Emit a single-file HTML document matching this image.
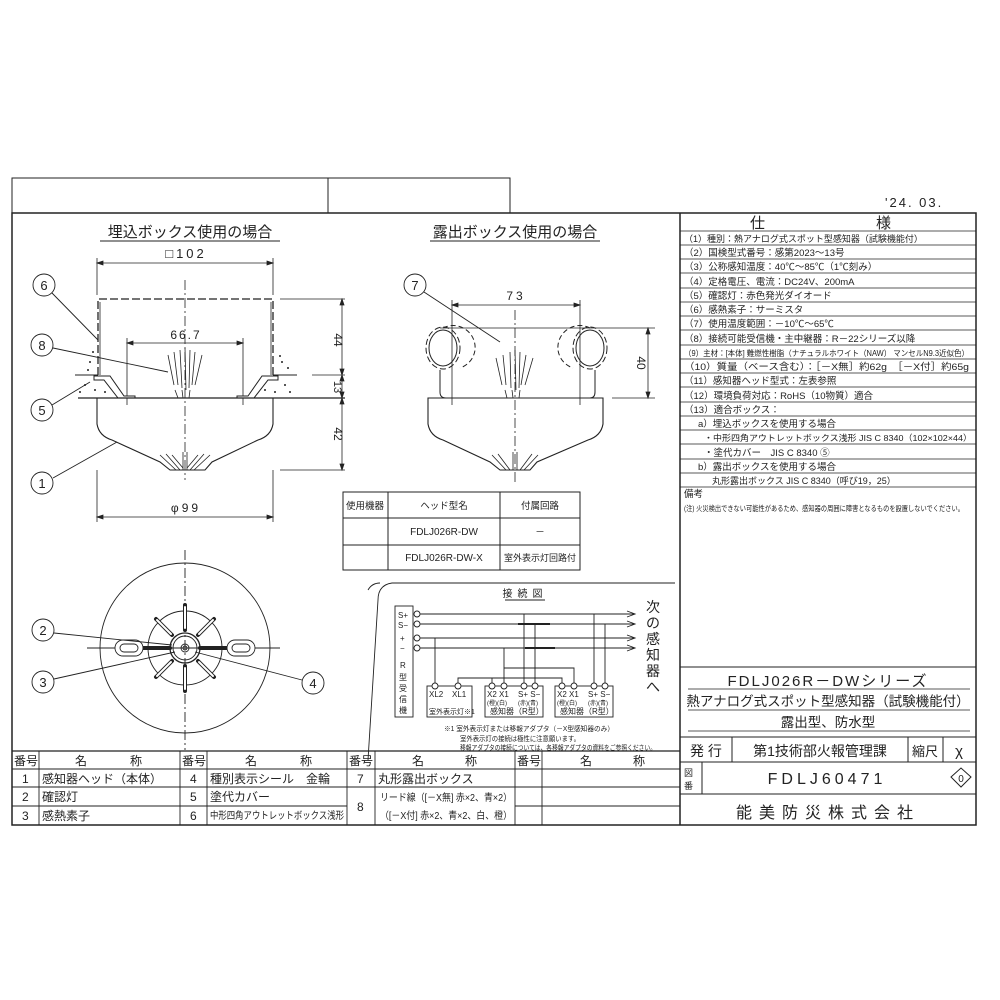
<!DOCTYPE html>
<html><head><meta charset="utf-8"><style>
html,body{margin:0;padding:0;background:#fff;}
svg{display:block;}
text{font-family:"Liberation Sans","Noto Sans CJK JP",sans-serif;fill:#222;}
</style></head><body>
<svg width="1000" height="1000" viewBox="0 0 1000 1000" xmlns="http://www.w3.org/2000/svg" stroke="#222" fill="none" stroke-width="1">
<!-- frame -->
<rect x="12" y="178" width="316" height="35"/>
<rect x="328" y="178" width="182" height="35"/>
<rect x="12" y="213" width="964" height="612" stroke-width="1.5"/>
<line x1="680" y1="213" x2="680" y2="825" stroke-width="1.5"/>
<text x="885" y="207" font-size="13" stroke="none" letter-spacing="2">'24. 03.</text>

<!-- spec table -->
<line x1="680" y1="231" x2="976" y2="231" stroke-width="0.8"/>
<text x="750" y="228" font-size="15" stroke="none">仕</text>
<text x="876" y="228" font-size="15" stroke="none">様</text>
<g font-size="9.5" stroke="none">
<text x="684" y="242" font-size="9">（1）種別：熱アナログ式スポット型感知器（試験機能付）</text>
<text x="684" y="256">（2）国検型式番号：感第2023～13号</text>
<text x="684" y="270">（3）公称感知温度：40℃～85℃（1℃刻み）</text>
<text x="684" y="285">（4）定格電圧、電流：DC24V、200mA</text>
<text x="684" y="299">（5）確認灯：赤色発光ダイオード</text>
<text x="684" y="313">（6）感熱素子：サーミスタ</text>
<text x="684" y="327">（7）使用温度範囲：－10℃～65℃</text>
<text x="684" y="342">（8）接続可能受信機・主中継器：R－22シリーズ以降</text>
<text x="684" y="356" font-size="8" textLength="285" lengthAdjust="spacingAndGlyphs">（9）主材：[本体] 難燃性樹脂（ナチュラルホワイト（NAW） マンセルN9.3近似色）</text>
<text x="684" y="370" textLength="285" lengthAdjust="spacingAndGlyphs">（10）質量（ベース含む）：［－X無］約62g　［－X付］約65g</text>
<text x="684" y="384">（11）感知器ヘッド型式：左表参照</text>
<text x="684" y="399">（12）環境負荷対応：RoHS（10物質）適合</text>
<text x="684" y="413">（13）適合ボックス：</text>
<text x="698" y="427">a）埋込ボックスを使用する場合</text>
<text x="704" y="441" font-size="8.5" textLength="268" lengthAdjust="spacingAndGlyphs">・中形四角アウトレットボックス浅形 JIS C 8340（102×102×44）</text>
<text x="704" y="456">・塗代カバー　JIS C 8340 ⑤</text>
<text x="698" y="470">b）露出ボックスを使用する場合</text>
<text x="712" y="484" font-size="9">丸形露出ボックス JIS C 8340（呼び19，25）</text>
<text x="684" y="497">備考</text>
<text x="684" y="511" font-size="7.5" textLength="280" lengthAdjust="spacingAndGlyphs">(注) 火災検出できない可能性があるため、感知器の周囲に障害となるものを設置しないでください。</text>
</g>
<g stroke-width="0.7">
<line x1="680" y1="245" x2="976" y2="245"/><line x1="680" y1="259" x2="976" y2="259"/>
<line x1="680" y1="273" x2="976" y2="273"/><line x1="680" y1="288" x2="976" y2="288"/>
<line x1="680" y1="302" x2="976" y2="302"/><line x1="680" y1="316" x2="976" y2="316"/>
<line x1="680" y1="330" x2="976" y2="330"/><line x1="680" y1="345" x2="976" y2="345"/>
<line x1="680" y1="359" x2="976" y2="359"/><line x1="680" y1="373" x2="976" y2="373"/>
<line x1="680" y1="387" x2="976" y2="387"/><line x1="680" y1="402" x2="976" y2="402"/>
<line x1="680" y1="416" x2="976" y2="416"/><line x1="680" y1="430" x2="976" y2="430"/>
<line x1="680" y1="444" x2="976" y2="444"/><line x1="680" y1="459" x2="976" y2="459"/>
<line x1="680" y1="473" x2="976" y2="473"/><line x1="680" y1="487" x2="976" y2="487"/>
</g>

<!-- title block -->
<g stroke-width="1">
<line x1="680" y1="667" x2="976" y2="667"/>
<line x1="688" y1="689" x2="970" y2="689" stroke-width="0.7"/>
<line x1="688" y1="710" x2="970" y2="710" stroke-width="0.7"/>
<line x1="688" y1="731" x2="970" y2="731" stroke-width="0.7"/>
<line x1="680" y1="737" x2="976" y2="737"/>
<line x1="680" y1="762" x2="976" y2="762"/>
<line x1="680" y1="794" x2="976" y2="794"/>
<line x1="732" y1="737" x2="732" y2="762"/>
<line x1="908" y1="737" x2="908" y2="762"/>
<line x1="943" y1="737" x2="943" y2="762"/>
<line x1="702" y1="762" x2="702" y2="794"/>
</g>
<text x="828" y="686" font-size="15" stroke="none" text-anchor="middle" letter-spacing="2">FDLJ026R－DWシリーズ</text>
<text x="828" y="706" font-size="13.5" stroke="none" text-anchor="middle">熱アナログ式スポット型感知器（試験機能付）</text>
<text x="828" y="727" font-size="13.5" stroke="none" text-anchor="middle">露出型、防水型</text>
<text x="706" y="756" font-size="14" stroke="none" text-anchor="middle">発 行</text>
<text x="820" y="756" font-size="14" stroke="none" text-anchor="middle">第1技術部火報管理課</text>
<text x="925" y="756" font-size="13" stroke="none" text-anchor="middle">縮尺</text>
<text x="959" y="756" font-size="15" stroke="none" text-anchor="middle">χ</text>
<text x="684" y="776" font-size="9" stroke="none">図</text>
<text x="684" y="789" font-size="9" stroke="none">番</text>
<text x="827" y="784" font-size="16" stroke="none" text-anchor="middle" letter-spacing="4">FDLJ60471</text>
<path d="M951 777 L961 768 L971 777 L961 787 Z"/>
<text x="961" y="782" font-size="10" stroke="none" text-anchor="middle">0</text>
<text x="828" y="818" font-size="16" stroke="none" text-anchor="middle" letter-spacing="7">能美防災株式会社</text>

<!-- parts table -->
<g stroke-width="0.9">
<line x1="12" y1="751" x2="680" y2="751" stroke-width="1.3"/>
<line x1="12" y1="769" x2="680" y2="769"/>
<line x1="12" y1="787" x2="680" y2="787"/>
<line x1="12" y1="806" x2="347" y2="806"/>
<line x1="515" y1="806" x2="680" y2="806"/>
<line x1="39" y1="751" x2="39" y2="825"/>
<line x1="180" y1="751" x2="180" y2="825"/>
<line x1="207" y1="751" x2="207" y2="825"/>
<line x1="347" y1="751" x2="347" y2="825"/>
<line x1="375" y1="751" x2="375" y2="825"/>
<line x1="515" y1="751" x2="515" y2="825"/>
<line x1="542" y1="751" x2="542" y2="825"/>
</g>
<g font-size="12" stroke="none">
<text x="14" y="765">番号</text><text x="75" y="765">名</text><text x="130" y="765">称</text>
<text x="182" y="765">番号</text><text x="245" y="765">名</text><text x="300" y="765">称</text>
<text x="349" y="765">番号</text><text x="412" y="765">名</text><text x="465" y="765">称</text>
<text x="517" y="765">番号</text><text x="580" y="765">名</text><text x="633" y="765">称</text>
<text x="22" y="783">1</text><text x="42" y="783">感知器ヘッド（本体）</text>
<text x="22" y="801">2</text><text x="42" y="801">確認灯</text>
<text x="22" y="820">3</text><text x="42" y="820">感熱素子</text>
<text x="190" y="783">4</text><text x="210" y="783">種別表示シール　金輪</text>
<text x="190" y="801">5</text><text x="210" y="801">塗代カバー</text>
<text x="190" y="820">6</text><text x="210" y="819" font-size="10" textLength="134" lengthAdjust="spacingAndGlyphs">中形四角アウトレットボックス浅形</text>
<text x="357" y="783">7</text><text x="378" y="783">丸形露出ボックス</text>
<text x="357" y="811">8</text>
<text x="380" y="801" font-size="10" textLength="132" lengthAdjust="spacingAndGlyphs">リード線（[－X無] 赤×2、青×2）</text>
<text x="380" y="819" font-size="10" textLength="132" lengthAdjust="spacingAndGlyphs">（[－X付] 赤×2、青×2、白、橙）</text>
</g>

<!-- LEFT drawing -->
<text x="190" y="237" font-size="15" stroke="none" text-anchor="middle">埋込ボックス使用の場合</text>
<line x1="100" y1="241" x2="280" y2="241"/>
<text x="186" y="258" font-size="13" stroke="none" text-anchor="middle" letter-spacing="3">□102</text>
<g stroke-width="0.8">
<line x1="97" y1="263" x2="273" y2="263"/>
<path d="M97 263 l6 -2 v4z M273 263 l-6 -2 v4z" fill="#222"/>
<line x1="97" y1="258" x2="97" y2="295"/><line x1="273" y1="258" x2="273" y2="295"/>
<line x1="185" y1="280" x2="185" y2="480" stroke-dasharray="10 3 2 3"/>
<line x1="127" y1="343" x2="243" y2="343"/>
<path d="M127 343 l6 -2 v4z M243 343 l-6 -2 v4z" fill="#222"/>
<line x1="127" y1="338" x2="127" y2="405"/><line x1="243" y1="338" x2="243" y2="405"/>
<line x1="280" y1="299" x2="345" y2="299"/>
<line x1="312" y1="375" x2="345" y2="375"/>
<line x1="280" y1="470" x2="345" y2="470"/>
<line x1="342" y1="299" x2="342" y2="470"/>
<path d="M342 299 l-2 6 h4z M342 375 l-2 -6 h4z M342 375 l-2 6 h4z M342 398 l-2 -6 h4z M342 398 l-2 6 h4z M342 470 l-2 -6 h4z" fill="#222"/>
<line x1="97" y1="470" x2="97" y2="522"/><line x1="273" y1="470" x2="273" y2="522"/>
<line x1="97" y1="517" x2="273" y2="517"/>
<path d="M97 517 l6 -2 v4z M273 517 l-6 -2 v4z" fill="#222"/>
</g>
<text x="334" y="340" font-size="12" stroke="none" transform="rotate(90 334 340)" text-anchor="middle">44</text>
<text x="334" y="387" font-size="11" stroke="none" transform="rotate(90 334 387)" text-anchor="middle">13</text>
<text x="334" y="434" font-size="12" stroke="none" transform="rotate(90 334 434)" text-anchor="middle">42</text>
<text x="186" y="512" font-size="12" stroke="none" text-anchor="middle" letter-spacing="3">φ99</text>
<text x="186" y="339" font-size="12" stroke="none" text-anchor="middle" letter-spacing="2">66.7</text>
<path d="M98 375 V299 H273 V375" stroke-dasharray="8 3" stroke-width="1.3"/>
<path d="M100 375 V302 M271 375 V302" stroke-width="0.8"/>
<line x1="75" y1="375" x2="98" y2="375"/><line x1="273" y1="375" x2="297" y2="375"/>
<path d="M94 376 L110 376 L124 396 L135 396 L135 398 L118 398 L104 380 L94 380 Z" fill="#fff"/>
<path d="M278 376 L262 376 L248 396 L237 396 L237 398 L254 398 L268 380 L278 380 Z" fill="#fff"/>
<g fill="#222" stroke="none">
<circle cx="85" cy="385" r="1"/><circle cx="95" cy="390" r="1"/><circle cx="80" cy="392" r="1"/><circle cx="105" cy="392" r="1"/><circle cx="90" cy="362" r="1"/><circle cx="88" cy="370" r="1"/><circle cx="93" cy="352" r="1"/>
<circle cx="285" cy="385" r="1"/><circle cx="275" cy="392" r="1"/><circle cx="290" cy="392" r="1"/><circle cx="265" cy="390" r="1"/><circle cx="282" cy="362" r="1"/><circle cx="288" cy="368" r="1"/><circle cx="280" cy="356" r="1"/>
</g>
<line x1="78" y1="398" x2="345" y2="398" stroke-width="1.2"/>
<path d="M97 398 V424 Q99 436 112 440 L160 462 L170 470 H205 L212 462 L258 440 Q271 436 273 424 V398" stroke-width="1.1"/>
<g stroke-width="0.8">
<path d="M160 455 L176 470 M166 454 L180 470 M172 455 L183 468 M210 455 L194 470 M204 454 L190 470 M198 455 L187 468 M183 452 V470 M187 452 V470"/>
<path d="M168 355 L174 385 M174 352 L178 385 M180 350 L182 388 M185 348 L186 390 M190 350 L189 388 M195 352 L192 385 M202 355 L195 385 M175 390 L178 398 M182 390 L183 398 M190 390 L189 398"/>
</g>
<g stroke-width="0.9">
<circle cx="44" cy="285" r="11"/><line x1="52" y1="293" x2="98" y2="340"/>
<circle cx="42" cy="345" r="11"/><line x1="53" y1="348" x2="168" y2="372"/>
<circle cx="42" cy="410" r="11"/><line x1="52" y1="405" x2="90" y2="382"/>
<circle cx="42" cy="483" r="11"/><line x1="53" y1="478" x2="117" y2="442"/>
</g>
<g font-size="13" stroke="none" text-anchor="middle">
<text x="44" y="290">6</text><text x="42" y="350">8</text><text x="42" y="415">5</text><text x="42" y="488">1</text>
</g>

<!-- MIDDLE drawing -->
<text x="515" y="237" font-size="15" stroke="none" text-anchor="middle">露出ボックス使用の場合</text>
<line x1="430" y1="241" x2="600" y2="241"/>
<circle cx="415" cy="285" r="11" stroke-width="0.9"/>
<text x="415" y="290" font-size="13" stroke="none" text-anchor="middle">7</text>
<line x1="424" y1="292" x2="500" y2="342" stroke-width="0.9"/>
<g stroke-width="0.8">
<line x1="452" y1="300" x2="452" y2="405"/><line x1="580" y1="300" x2="580" y2="405"/>
<line x1="452" y1="305" x2="580" y2="305"/>
<path d="M452 305 l6 -2 v4z M580 305 l-6 -2 v4z" fill="#222"/>
<line x1="515" y1="310" x2="515" y2="485" stroke-dasharray="10 3 2 3"/>
<line x1="440" y1="328" x2="655" y2="328"/>
<line x1="612" y1="398" x2="655" y2="398"/>
<line x1="648" y1="328" x2="648" y2="398"/>
<path d="M648 328 l-2 6 h4z M648 398 l-2 -6 h4z" fill="#222"/>
</g>
<text x="637" y="363" font-size="12" stroke="none" transform="rotate(90 637 363)" text-anchor="middle">40</text>
<text x="516" y="300" font-size="12" stroke="none" text-anchor="middle" letter-spacing="3">73</text>
<path d="M440 370 V392 Q440 398 446 398 H590 Q595 398 595 392 V370" stroke-width="1"/>
<ellipse cx="443" cy="348" rx="17" ry="21" stroke-dasharray="6 3"/>
<ellipse cx="443" cy="348" rx="14" ry="18"/>
<ellipse cx="590" cy="348" rx="17" ry="21" stroke-dasharray="6 3"/>
<ellipse cx="590" cy="348" rx="14" ry="18"/>
<path d="M443 328 A22 22 0 0 1 475 350 A22 22 0 0 1 460 368" stroke-dasharray="5 3"/>
<path d="M590 328 A22 22 0 0 0 558 350 A22 22 0 0 0 573 368" stroke-dasharray="5 3"/>
<path d="M428 398 V424 Q430 436 443 440 L490 462 L500 470 H530 L537 462 L588 440 Q601 436 603 424 V398 Z" stroke-width="1.1"/>
<g stroke-width="0.8">
<path d="M492 455 L506 470 M498 454 L510 470 M538 455 L524 470 M532 454 L520 470 M513 452 V470 M517 452 V470"/>
<path d="M496 358 L502 385 M503 355 L506 385 M510 352 L511 388 M515 350 L516 390 M520 352 L519 388 M526 355 L521 385 M533 358 L525 385 M505 390 L507 398 M512 390 L513 398 M520 390 L519 398"/>
</g>
<g stroke-width="1">
<rect x="343" y="492" width="237" height="78"/>
<line x1="343" y1="518" x2="580" y2="518"/>
<line x1="343" y1="545" x2="580" y2="545"/>
<line x1="388" y1="492" x2="388" y2="570"/>
<line x1="500" y1="492" x2="500" y2="570"/>
</g>
<g font-size="9.5" stroke="none" text-anchor="middle">
<text x="365" y="509">使用機器</text><text x="444" y="509">ヘッド型名</text><text x="540" y="509">付属回路</text>
<text x="444" y="535" font-size="10">FDLJ026R-DW</text><text x="540" y="535">－</text>
<text x="444" y="561" font-size="10">FDLJ026R-DW-X</text><text x="540" y="561" font-size="9">室外表示灯回路付</text>
</g>

<!-- bottom view -->
<g stroke-width="0.9">
<line x1="185" y1="550" x2="185" y2="750" stroke-dasharray="10 3 2 3"/>
<line x1="87" y1="648" x2="280" y2="648"/>
<circle cx="185" cy="648" r="85"/>
<circle cx="185" cy="648" r="37"/>
<circle cx="185" cy="648" r="15" stroke-width="1.3"/>
<circle cx="185" cy="648" r="12"/>
<circle cx="185" cy="648" r="4"/>
<circle cx="185" cy="648" r="2"/>
<g stroke-width="4" stroke-linecap="round">
<line x1="185" y1="605" x2="185" y2="630"/><line x1="185" y1="666" x2="185" y2="691"/>
<line x1="156" y1="619" x2="172" y2="635"/><line x1="214" y1="619" x2="198" y2="635"/>
<line x1="156" y1="677" x2="172" y2="661"/><line x1="214" y1="677" x2="198" y2="661"/>
<line x1="140" y1="648" x2="170" y2="648"/><line x1="200" y1="648" x2="230" y2="648"/>
</g>
<g stroke="#fff" stroke-width="2" stroke-linecap="round">
<line x1="185" y1="607" x2="185" y2="628"/><line x1="185" y1="668" x2="185" y2="689"/>
<line x1="157" y1="620" x2="171" y2="634"/><line x1="213" y1="620" x2="199" y2="634"/>
<line x1="157" y1="676" x2="171" y2="662"/><line x1="213" y1="676" x2="199" y2="662"/>
</g>
<rect x="115" y="640" width="28" height="16" rx="8" fill="#fff"/>
<rect x="120" y="644" width="18" height="8" rx="4"/>
<rect x="227" y="640" width="28" height="16" rx="8" fill="#fff"/>
<rect x="232" y="644" width="18" height="8" rx="4"/>
<circle cx="43" cy="630" r="11"/><line x1="54" y1="633" x2="172" y2="645"/>
<circle cx="43" cy="682" r="11"/><line x1="54" y1="679" x2="175" y2="652"/>
<circle cx="313" cy="683" r="11"/><line x1="302" y1="680" x2="195" y2="652"/>
</g>
<g font-size="13" stroke="none" text-anchor="middle">
<text x="43" y="635">2</text><text x="43" y="687">3</text><text x="313" y="688">4</text>
</g>

<!-- connection diagram -->
<g stroke-width="0.9">
<path d="M368 760 L378 600 Q378 585 392 583 H675"/>
<path d="M368 590 Q372 583 380 583"/>
<text x="525" y="597" font-size="10" stroke="none" text-anchor="middle" letter-spacing="5">接続図</text>
<line x1="505" y1="600" x2="545" y2="600"/>
<rect x="395" y="606" width="18" height="111"/>
<g fill="#fff"><circle cx="417" cy="614" r="3"/><circle cx="417" cy="624" r="3"/><circle cx="417" cy="638" r="3"/><circle cx="417" cy="648" r="3"/></g>
<line x1="420" y1="614" x2="635" y2="614"/><line x1="420" y1="624" x2="635" y2="624"/>
<line x1="420" y1="638" x2="635" y2="638"/><line x1="420" y1="648" x2="635" y2="648"/>
<path d="M627 611 L635 614 L627 617 M627 621 L635 624 L627 627 M627 635 L635 638 L627 641 M627 645 L635 648 L627 651"/>
<rect x="427" y="686" width="45" height="31"/>
<rect x="485" y="686" width="58" height="31"/>
<rect x="555" y="686" width="58" height="31"/>
<path d="M435 686 V638 M458 686 V678 H562 V686 M492 678 V686 M504 686 V648 M504 668 H574 V686 M524 686 V614 M535 686 V624 M594 686 V614 M605 686 V624"/>
<g fill="#fff"><circle cx="435" cy="686" r="3"/><circle cx="458" cy="686" r="3"/><circle cx="492" cy="686" r="3"/><circle cx="504" cy="686" r="3"/><circle cx="524" cy="686" r="3"/><circle cx="535" cy="686" r="3"/><circle cx="562" cy="686" r="3"/><circle cx="574" cy="686" r="3"/><circle cx="594" cy="686" r="3"/><circle cx="605" cy="686" r="3"/></g>
<line x1="518" y1="624" x2="550" y2="624" stroke-width="2"/>
<line x1="525" y1="648" x2="555" y2="648" stroke-width="2"/>
</g>
<g font-size="8" stroke="none">
<text x="398" y="618">S+</text><text x="398" y="628">S−</text><text x="400" y="641">+</text><text x="400" y="651">−</text>
<text x="400" y="668">R</text><text x="399" y="680">型</text><text x="399" y="691">受</text><text x="399" y="702">信</text><text x="399" y="713">機</text>
<text x="429" y="697">XL2</text><text x="452" y="697">XL1</text>
<text x="429" y="714" font-size="7">室外表示灯※1</text>
<text x="487" y="697">X2 X1</text><text x="518" y="697">S+ S−</text>
<text x="487" y="705" font-size="6">(橙)(白)</text><text x="518" y="705" font-size="6">(赤)(青)</text>
<text x="490" y="714">感知器（R型）</text>
<text x="557" y="697">X2 X1</text><text x="588" y="697">S+ S−</text>
<text x="557" y="705" font-size="6">(橙)(白)</text><text x="588" y="705" font-size="6">(赤)(青)</text>
<text x="560" y="714">感知器（R型）</text>
<text x="444" y="731" font-size="7" textLength="170" lengthAdjust="spacingAndGlyphs">※1 室外表示灯または移報アダプタ（－X型感知器のみ）</text>
<text x="460" y="741" font-size="7" textLength="120" lengthAdjust="spacingAndGlyphs">室外表示灯の接続は極性に注意願います。</text>
<text x="460" y="750" font-size="7" textLength="196" lengthAdjust="spacingAndGlyphs">移報アダプタの接続については、各移報アダプタの資料をご参照ください。</text>
</g>
<g font-size="14" stroke="none" text-anchor="middle">
<text x="653" y="612">次</text><text x="653" y="628">の</text><text x="653" y="644">感</text><text x="653" y="660">知</text><text x="653" y="676">器</text><text x="653" y="692">へ</text>
</g>
</svg>
</body></html>
